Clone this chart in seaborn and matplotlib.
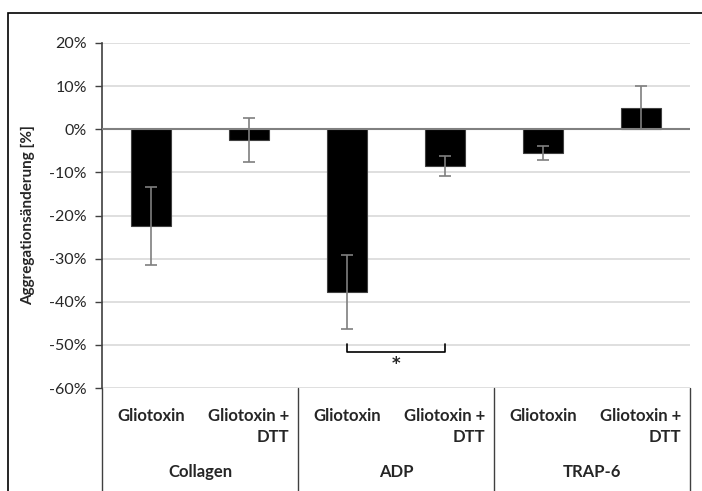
import matplotlib
matplotlib.use("Agg")
import matplotlib.pyplot as plt
import matplotlib.transforms as mtransforms
from matplotlib.patches import Rectangle
import seaborn as sns
import pandas as pd

# ---- data ----
groups = ["Collagen", "ADP", "TRAP-6"]
treatments = ["Gliotoxin", "Gliotoxin +\nDTT"]
means = [-22.4, -2.6, -37.8, -8.5, -5.5, 5.0]
errors = [9.1, 5.1, 8.6, 2.4, 1.7, 5.0]
yticks = [20, 10, 0, -10, -20, -30, -40, -50, -60]
ylabel = "Aggregationsänderung [%]"
sig_pair = (2, 3)
sig_text = "*"

labels = [f"{g} | {t}" for g in groups for t in treatments]
df = pd.DataFrame({"label": labels, "value": means})

sns.set_style("white")
plt.rcParams["font.family"] = ["Lato", "DejaVu Sans"]

fig = plt.figure(figsize=(7.02, 4.91), dpi=100)
W, H = 702, 491
ax = fig.add_axes([102 / W, 1 - 388 / H, (690 - 102) / W, (388 - 43) / H])

sns.barplot(data=df, x="label", y="value", order=labels, color="black",
            width=0.4, errorbar=None, ax=ax, saturation=1,
            edgecolor="#404040", linewidth=0.8, zorder=3)
ax.errorbar(range(len(means)), means, yerr=errors, fmt="none",
            ecolor="#7f7f7f", elinewidth=1.2, capsize=4.5, capthick=1.2, zorder=4)

ax.set_ylim(-60, 20)
ax.set_xlim(-0.5, len(means) - 0.5)
ax.set_yticks(yticks)
ax.set_yticklabels([f"{v}%" for v in yticks], fontsize=11.5)
ax.yaxis.grid(True, color="#d9d9d9", linewidth=1.2, zorder=0)
ax.set_axisbelow(True)
ax.axhline(0, color="#808080", linewidth=1.5, zorder=3)
ax.tick_params(axis="y", length=5, width=1, color="#404040", direction="out", pad=6, left=True)
ax.set_xticks([])
ax.set_xlabel("")
ax.set_ylabel(ylabel, fontsize=11, fontweight="bold", labelpad=10)
for s in ["top", "right", "bottom"]:
    ax.spines[s].set_visible(False)
ax.spines["left"].set_color("#404040")
ax.spines["left"].set_linewidth(1.2)

# multi-level category axis
trans = mtransforms.blended_transform_factory(ax.transData, ax.transAxes)
for i, t in enumerate(treatments * len(groups)):
    ax.text(i, -0.058, t, transform=trans, ha="center", va="top", fontsize=12,
            fontweight="bold", multialignment="right", linespacing=1.4)
for j, g in enumerate(groups):
    ax.text(2 * j + 0.5, -0.22, g, transform=trans, ha="center", va="top",
            fontsize=12, fontweight="bold")
for xb in [-0.5, 1.5, 3.5, 5.5]:
    ax.plot([xb, xb], [0, -0.35], transform=trans, color="#404040",
            linewidth=1, clip_on=False)

# significance bracket
x0, x1 = sig_pair
ax.plot([x0, x0, x1, x1], [-49.8, -51.7, -51.7, -49.8], color="black",
        linewidth=1.2, zorder=5)
ax.text((x0 + x1) / 2, -54.5, sig_text, ha="center", va="center",
        fontsize=12, fontweight="bold", family="DejaVu Sans")

# chart outer frame (cropped on right/bottom)
fig.patches.append(Rectangle((8 / W, -0.1), 1.2, 1.1 - 13 / H,
                             transform=fig.transFigure, fill=False,
                             edgecolor="black", linewidth=1.2))

fig.savefig("out.png", dpi=100)
